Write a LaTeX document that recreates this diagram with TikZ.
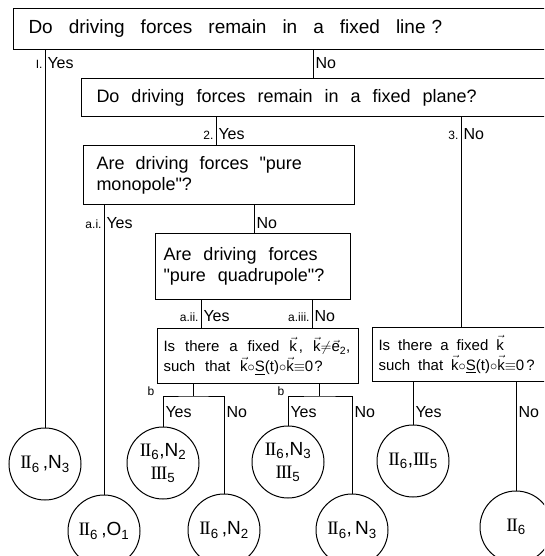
\documentclass[tikz,border=0pt]{standalone}
\usepackage{amsmath}
\usepackage{fontspec}
\setmainfont{Liberation Sans}
\newfontfamily\boxfont{Liberation Sans}
\newfontfamily\romfont{Liberation Serif}
\newcommand\RII{{\romfont I\kern-.06em I}}
\newcommand\RIII{{\romfont I\kern-.06em I\kern-.06em I}}
\newcommand\sub[1]{\ensuremath{_{\text{#1}}}}
\newcommand\vk{\ensuremath{\vec{\text{k}}}}
\newcommand\wide[1]{\spaceskip=#1\relax}

\begin{document}
\begin{tikzpicture}[x=1pt, y=-1pt, line width=1pt,
  box/.style={draw, anchor=north west, align=left, inner ysep=0pt,
              font=\boxfont\fontsize{18}{21}\selectfont},
  small/.style={font=\boxfont\fontsize{15}{20}\selectfont},
  res/.style={draw, circle, minimum size=72pt, inner sep=0pt, align=center,
              font=\fontsize{19}{23}\selectfont},
  ans/.style={anchor=base west, inner sep=2pt, font=\fontsize{16}{18}\selectfont},
  num/.style={anchor=base east, inner sep=2pt, font=\fontsize{12}{14}\selectfont}
]
\useasboundingbox (0,0) rectangle (544,556);
\clip (0,0) rectangle (544,556);

\node[box, inner xsep=15pt, text width=560pt, minimum height=41pt,
      font=\boxfont\fontsize{19}{22}\selectfont] (line) at (13,8)
  {\wide{16pt}Do driving forces remain in a fixed line\kern6pt?};
\node[box, inner xsep=15pt, text width=560pt, minimum height=38pt] (plane) at (81,78)
  {\wide{12pt}Do driving forces remain in a fixed plane?};
\node[box, inner xsep=13pt, text width=245pt, minimum height=59pt] (mono) at (83,145)
  {\wide{11pt}Are driving forces "pure\\monopole"?};
\node[box, inner xsep=8pt, text width=179pt, minimum height=66pt] (quad) at (155,233)
  {\wide{12pt}Are driving forces\\"pure quadrupole"?};
\node[box, small, inner xsep=6pt, text width=189pt, minimum height=55pt] (kplane) at (157,328)
  {\wide{10pt}Is there a fixed \vk\kern2pt, \vk$\neq$\ensuremath{\vec{\text{e}}}\sub{2},\\
   such that \vk$\circ$\underline{S}(t)$\circ$\vk$\equiv$0\kern1pt?};
\node[box, small, inner xsep=6pt, text width=300pt, minimum height=54pt] (kfix) at (372,327)
  {\wide{8pt}Is there a fixed \vk\\such that \vk$\circ$\underline{S}(t)$\circ$\vk$\equiv$0\kern2pt?};

\node[res] (r1) at (45,464) {\RII\sub{6}\,,N\sub{3}};
\node[res] (r2) at (104,531) {\RII\sub{6}\,,O\sub{1}};
\node[res] (r3) at (163,463) {\RII\sub{6},N\sub{2}\\\RIII\sub{5}};
\node[res] (r4) at (224,530) {\RII\sub{6}\,,N\sub{2}};
\node[res] (r5) at (288,462) {\RII\sub{6},N\sub{3}\\\RIII\sub{5}};
\node[res] (r6) at (352,530) {\RII\sub{6},\,N\sub{3}};
\node[res] (r7) at (413,461) {\RII\sub{6},\RIII\sub{5}};
\node[res] (r8) at (516,527) {\RII\sub{6}};

\node[num] at (45,69) {I.};
\node[ans] at (45,69) {Yes};
\node[ans] (noline) at (313,69) {No};
\node[num] at (216,140) {2.};
\node[ans] (yesplane) at (216,140) {Yes};
\node[num] at (461,140) {3.};
\node[ans] (noplane) at (461,140) {No};
\node[num] at (104,228) {a.i.};
\node[ans] at (104,228) {Yes};
\node[ans] (nomono) at (254,228) {No};
\node[num] at (201,321) {a.ii.};
\node[ans] (yesquad) at (201,321) {Yes};
\node[num] at (312,321) {a.iii.};
\node[ans] (noquad) at (312,321) {No};

\coordinate (bii) at (193,396);
\coordinate (biii) at (319,396);
\node[num, anchor=base] at (151,395) {b};
\node[num, anchor=base] at (281,395) {b};
\node[ans] at (163,417) {Yes};
\node[ans] at (224,417) {No};
\node[ans] at (288,417) {Yes};
\node[ans] at (352,417) {No};
\node[ans] at (413,417) {Yes};
\node[ans] at (516,417) {No};

\draw (r1.north) -- (r1 |- line.south);
\draw (line.south -| noline.west) -- (plane.north -| noline.west);
\draw (plane.south -| yesplane.west) -- (mono.north -| yesplane.west);
\draw (plane.south -| noplane.west) -- (kfix.north -| noplane.west);
\draw (r2.north) -- (r2 |- mono.south);
\draw (mono.south -| nomono.west) -- (quad.north -| nomono.west);
\draw (quad.south -| yesquad.west) -- (kplane.north -| yesquad.west);
\draw (quad.south -| noquad.west) -- (kplane.north -| noquad.west);
\draw (kplane.south -| bii) -- (bii);
\draw (r3.north) |- (bii) -| (r4.north);
\draw (kplane.south -| biii) -- (biii);
\draw (r5.north) |- (biii) -| (r6.north);
\draw (r7.north) -- (r7 |- kfix.south);
\draw (r8.north) -- (r8 |- kfix.south);
\end{tikzpicture}
\end{document}
